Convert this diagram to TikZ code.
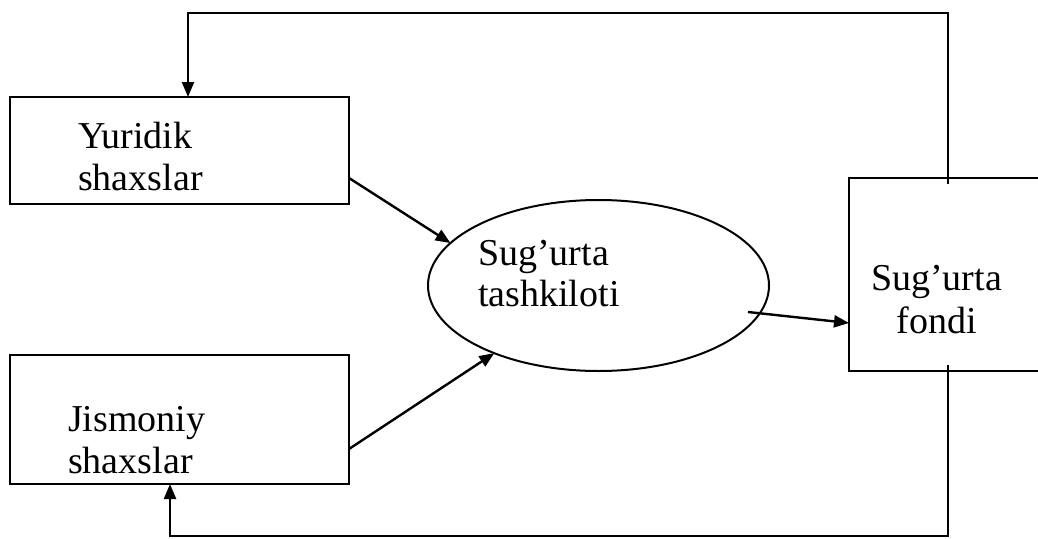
\documentclass[tikz,border=0pt]{standalone}
\usepackage{fontspec}
\setmainfont{Liberation Serif}
\usetikzlibrary{shapes.geometric,arrows.meta}
\begin{document}
\begin{tikzpicture}[x=1pt,y=-1pt,
  boxshape/.style={draw,line width=2.4pt,inner sep=0pt,outer sep=0pt,rectangle},
  ovalshape/.style={draw,line width=2pt,inner sep=0pt,outer sep=0pt,ellipse},
  txt/.style={inner sep=0pt,font=\fontsize{38}{42}\selectfont},
  lbl/.style={txt,anchor=base west},
  arr/.style={line width=2.4pt,-{Triangle[length=15pt,width=12pt]}},
  conn/.style={line width=2.4pt}]
\useasboundingbox (0,0) rectangle (1038,538);
% shapes
\node[boxshape,minimum width=339pt,minimum height=107pt] (b1) at (179.5,150.5) {};
\node[boxshape,minimum width=339pt,minimum height=129pt] (b2) at (179.5,419.5) {};
\node[boxshape,minimum width=211pt,minimum height=193pt] (rb) at (954.5,274.5) {};
\node[ovalshape,minimum width=341pt,minimum height=171pt] (el) at (598.5,285.5) {};
% texts
\node[lbl] (t1a) at (78,148) {Yuridik};
\node[lbl] (t1b) at (78,190) {shaxslar};
\node[lbl] (t2a) at (68,431) {Jismoniy};
\node[lbl] (t2b) at (68,473) {shaxslar};
\node[lbl] (t3a) at (478,265) {Sug’urta};
\node[lbl] (t3b) at (478,306) {tashkiloti};
\node[txt,anchor=base] (t4a) at (936.5,290) {Sug’urta};
\node[txt,anchor=base] (t4b) at (936.5,333) {fondi};
% connectors
\draw[arr] ([yshift=-27.5pt]b1.east) -- (el.164);
\draw[arr] ([yshift=-29.5pt]b2.east) -- (el.213);
\coordinate (s3) at (748,312);
\draw[arr] (s3) -- ([yshift=-48.5pt]rb.west);
\coordinate (u0) at (948,184);
\coordinate (u1) at (948,13);
\coordinate (u2) at (188,13);
\draw[arr] (u0) -- (u1) -- (u2) -- (u2 |- b1.north);
\coordinate (d0) at (948,365);
\coordinate (d1) at (948,536);
\coordinate (d2) at (170,536);
\draw[arr] (d0) -- (d1) -- (d2) -- (d2 |- b2.south);
\end{tikzpicture}
\end{document}
